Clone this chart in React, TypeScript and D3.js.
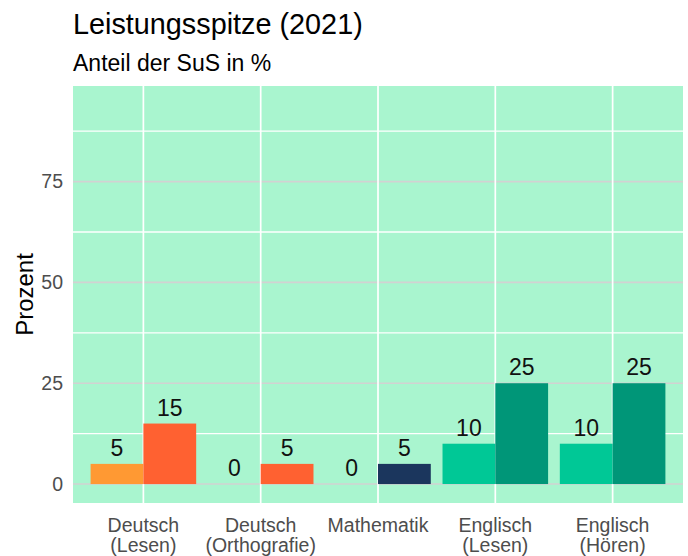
import React from 'react';
import * as d3 from 'd3';

const categories = ['Deutsch\n(Lesen)', 'Deutsch\n(Orthografie)', 'Mathematik', 'Englisch\n(Lesen)', 'Englisch\n(Hören)'];
const firstValues = [5, 0, 0, 10, 10];
const secondValues = [15, 5, 5, 25, 25];
const firstColors = ['#FF9933', '#FF9933', '#1B365D', '#00C896', '#00C896'];
const secondColors = ['#FF6131', '#FF6131', '#1B365D', '#009678', '#009678'];
const majorTicks = [0, 25, 50, 75];
const minorTicks = [12.5, 37.5, 62.5, 87.5];

const W = 688;
const H = 556;
const panel = { left: 73, right: 683, top: 86, bottom: 503 };
const font = 'Liberation Sans, Arial, sans-serif';

const App = () => {
  const x = d3.scaleBand<string>()
    .domain(categories)
    .range([panel.left, panel.right])
    .paddingInner(0.1)
    .paddingOuter(0.15);

  const inner = d3.scaleBand<string>()
    .domain(['a', 'b'])
    .range([0, x.bandwidth()]);

  const yMax = 94;
  const y = d3.scaleLinear()
    .domain([-yMax * 0.05, yMax * 1.05])
    .range([panel.bottom, panel.top]);

  const bars = categories.flatMap((c, i) => [
    { cat: c, key: 'a', value: firstValues[i], color: firstColors[i] },
    { cat: c, key: 'b', value: secondValues[i], color: secondColors[i] },
  ]);

  return (
    <svg width={W} height={H} style={{ position: 'absolute', left: 0, top: 0 }}>
      <rect x={0} y={0} width={W} height={H} fill="#fff" />
      <text x={73} y={34} fontFamily={font} fontSize={28.8} fill="#000">Leistungsspitze (2021)</text>
      <text x={73} y={71} fontFamily={font} fontSize={23} fill="#000">Anteil der SuS in %</text>

      <rect x={panel.left} y={panel.top} width={panel.right - panel.left} height={panel.bottom - panel.top} fill="#A9F5CF" />

      {minorTicks.map(t => (
        <line key={'mi' + t} x1={panel.left} x2={panel.right} y1={y(t)} y2={y(t)} stroke="#fff" strokeWidth={1.3} />
      ))}
      {majorTicks.map(t => (
        <line key={'ma' + t} x1={panel.left} x2={panel.right} y1={y(t)} y2={y(t)} stroke="#d2d2d2" strokeWidth={1.6} />
      ))}
      {categories.map(c => (
        <line key={'v' + c} x1={x(c)! + x.bandwidth() / 2} x2={x(c)! + x.bandwidth() / 2} y1={panel.top} y2={panel.bottom} stroke="#fff" strokeWidth={1.7} />
      ))}

      {bars.map(b => (
        <rect
          key={b.cat + b.key}
          x={x(b.cat)! + inner(b.key)!}
          y={y(b.value)}
          width={inner.bandwidth()}
          height={y(0) - y(b.value)}
          fill={b.color}
        />
      ))}
      {bars.map(b => (
        <text
          key={'l' + b.cat + b.key}
          x={x(b.cat)! + inner(b.key)! + inner.bandwidth() / 2}
          y={y(b.value) - 8}
          textAnchor="middle"
          fontFamily={font}
          fontSize={23}
          fill="#111"
        >
          {b.value}
        </text>
      ))}

      {majorTicks.map(t => (
        <text key={'yt' + t} x={63} y={y(t)} dy="0.35em" textAnchor="end" fontFamily={font} fontSize={19.5} fill="#4D4D4D">{t}</text>
      ))}
      {categories.map(c => (
        <text key={'xt' + c} textAnchor="middle" fontFamily={font} fontSize={19.5} fill="#4D4D4D">
          {c.split('\n').map((line, j) => (
            <tspan key={j} x={x(c)! + x.bandwidth() / 2} y={532 + j * 20}>{line}</tspan>
          ))}
        </text>
      ))}

      <text
        transform={`translate(33, ${(panel.top + panel.bottom) / 2}) rotate(-90)`}
        textAnchor="middle"
        fontFamily={font}
        fontSize={24}
        fill="#000"
      >
        Prozent
      </text>
    </svg>
  );
};

export default App;
